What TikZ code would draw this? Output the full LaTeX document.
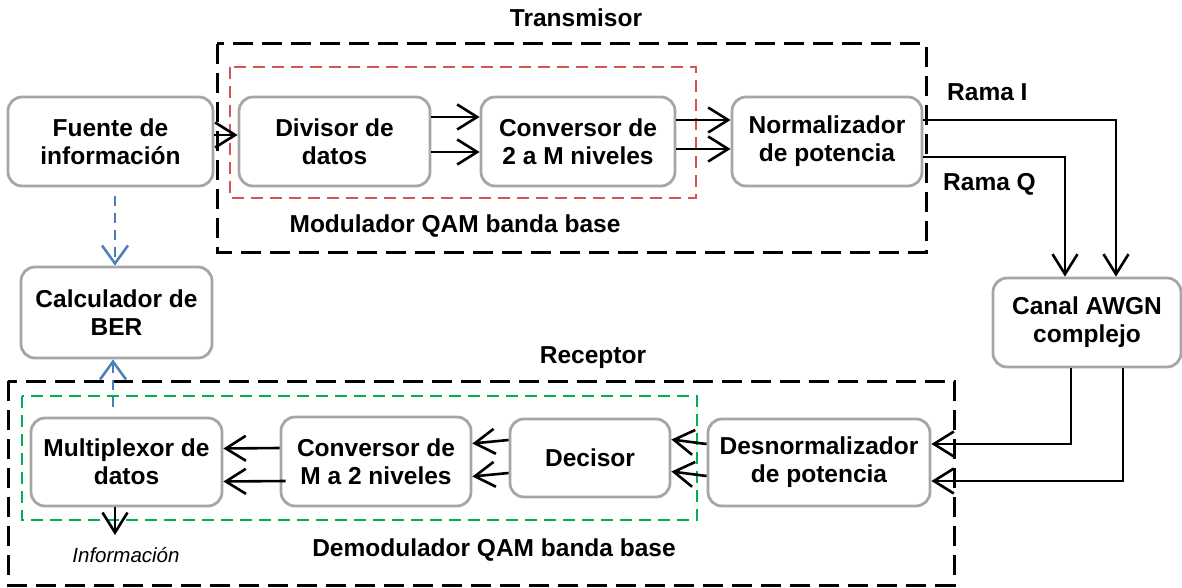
\documentclass[tikz,border=0pt]{standalone}
\usepackage{fontspec}
\setmainfont{Liberation Sans}
\usetikzlibrary{arrows.meta}
\definecolor{boxgray}{RGB}{166,166,166}
\definecolor{framered}{RGB}{214,84,84}
\definecolor{framegreen}{RGB}{0,176,80}
\definecolor{linkblue}{RGB}{74,126,187}
\tikzset{
  blk/.style={draw=boxgray, line width=2.8pt, rounded corners=14pt, fill=white,
    align=center, inner sep=0pt, font=\fontsize{24.5}{28}\selectfont\bfseries},
  lbl/.style={font=\fontsize{24.5}{28}\selectfont\bfseries, inner sep=0pt},
  barb/.style={-{Straight Barb[length=20pt,width=25pt,line width=2.6pt]}},
  arr/.style={line width=2.6pt, barb},
  blue link/.style={draw=linkblue, line width=2.6pt, dash pattern=on 10pt off 7pt,
    -{Straight Barb[length=18pt,width=26pt,line width=2.5pt]}},
  outer frame/.style={line width=3pt, dash pattern=on 20pt off 9pt},
  red frame/.style={draw=framered, line width=2pt, dash pattern=on 12pt off 7pt},
  green frame/.style={draw=framegreen, line width=2.4pt, dash pattern=on 12pt off 7pt}
}
\begin{document}
\begin{tikzpicture}[x=1pt, y=-1pt]
\useasboundingbox (0,0) rectangle (1182,588);

% dashed enclosures
\draw[outer frame] (217,44) rectangle (926,252);
\draw[red frame] (230,67) rectangle (696,198);
\draw[outer frame] (8,381) rectangle (954,585);
\draw[green frame] (22,396) rectangle (697,520);

% transmitter blocks
\node[blk, minimum width=205pt, minimum height=89pt] (fuente) at (110.5,141.5) {Fuente de\\información};
\node[blk, minimum width=191pt, minimum height=89pt] (divisor) at (334.5,141.5) {Divisor de\\datos};
\node[blk, minimum width=194pt, minimum height=89pt] (convtx) at (578,141.5) {Conversor de\\2 a M niveles};
\node[blk, minimum width=190pt, minimum height=89pt] (norm) at (827,141.5) {Normalizador\\de potencia};

% channel and BER
\node[blk, minimum width=188pt, minimum height=89pt] (canal) at (1087,322.5) {Canal AWGN\\complejo};
\node[blk, minimum width=191pt, minimum height=91pt] (calc) at (116.5,312.5) {Calculador de\\BER};

% receiver blocks
\node[blk, minimum width=191pt, minimum height=88pt] (mux) at (126.5,462) {Multiplexor de\\datos};
\node[blk, minimum width=190pt, minimum height=89pt] (convrx) at (376,461.5) {Conversor de\\M a 2 niveles};
\node[blk, minimum width=160pt, minimum height=78pt] (decisor) at (590,458) {Decisor};
\node[blk, minimum width=222pt, minimum height=87pt] (desn) at (819,462.5) {Desnormalizador\\de potencia};

% labels
\node[lbl] (ttx) at (576,18) {Transmisor};
\node[lbl] (tmod) at (455,226) {Modulador QAM banda base};
\node[lbl] (trx) at (593,358) {Receptor};
\node[lbl] (tdem) at (494,550) {Demodulador QAM banda base};
\node[lbl, anchor=west] (rami) at (947,92) {Rama I};
\node[lbl, anchor=west] (ramq) at (943,184) {Rama Q};
\node[font=\fontsize{20.5}{24}\selectfont\itshape, inner sep=0pt] (info) at (126,555) {Información};

% transmitter chain
\draw[arr] ([yshift=6.5pt]fuente.east) -- ([yshift=6.5pt]divisor.west);
\draw[arr] ([yshift=24.5pt]divisor.east) -- ([yshift=24.5pt]convtx.west);
\draw[arr] ([yshift=-10.5pt]divisor.east) -- ([yshift=-10.5pt]convtx.west);
\draw[arr] ([yshift=21.5pt]convtx.east) -- ([yshift=21.5pt]norm.west);
\draw[arr] ([yshift=-7.5pt]convtx.east) -- ([yshift=-7.5pt]norm.west);

% I and Q branches into the channel
\draw[arr] ([yshift=21.5pt]norm.east) -| ([xshift=29pt]canal.north);
\draw[arr] ([yshift=-15.5pt]norm.east) -| ([xshift=-22pt]canal.north);

% channel to receiver
\draw[arr] ([xshift=-16pt]canal.south) |- ([yshift=18.5pt]desn.east);
\draw[arr] ([xshift=36pt]canal.south) |- ([yshift=-18.5pt]desn.east);

% receiver chain
\draw[arr] ([yshift=18.5pt]desn.west) -- ([yshift=18.5pt]decisor.east);
\draw[arr] ([yshift=-13.5pt]desn.west) -- ([yshift=-13.5pt]decisor.east);
\draw[arr] ([yshift=18pt]decisor.west) -- ([yshift=18pt]convrx.east);
\draw[arr] ([yshift=-15pt]decisor.west) -- ([yshift=-15pt]convrx.east);
\draw[arr] ([yshift=13.5pt]convrx.west) -- ([yshift=13.5pt]mux.east);
\draw[arr] ([yshift=-19.5pt,xshift=6pt]convrx.west) -- ([yshift=-19.5pt]mux.east);

% recovered data output
\coordinate (out) at (115,535);
\draw[arr] ([xshift=-11.5pt]mux.south) -- (out);

% reference links to the BER calculator
\draw[blue link] ([xshift=4.5pt,yshift=-9pt]fuente.south) -- ([xshift=-1.5pt]calc.north);
\draw[blue link] ([xshift=-13.5pt,yshift=10pt]mux.north) -- ([xshift=-3.5pt]calc.south);
\end{tikzpicture}
\end{document}
